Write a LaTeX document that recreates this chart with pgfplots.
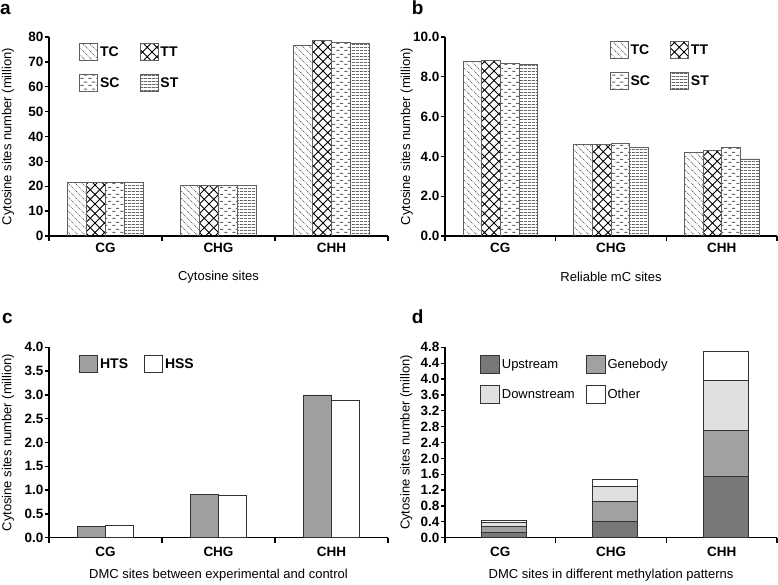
\documentclass[border=0pt]{standalone}
\usepackage{fontspec}
\setmainfont{Liberation Sans}
\usepackage{pgfplots}
\pgfplotsset{compat=1.18}
\usetikzlibrary{patterns}

\pgfdeclarepatternformonly{tcpat}{\pgfqpoint{-1pt}{-1pt}}{\pgfqpoint{8pt}{8pt}}{\pgfqpoint{7pt}{7pt}}{%
  \pgfsetlinewidth{0.7pt}\pgfsetdash{{1pt}{0.9pt}}{0pt}%
  \pgfpathmoveto{\pgfqpoint{-0.5pt}{7.5pt}}\pgfpathlineto{\pgfqpoint{7.5pt}{-0.5pt}}\pgfusepath{stroke}}
\pgfdeclarepatternformonly{ttpat}{\pgfqpoint{-1pt}{-1pt}}{\pgfqpoint{10.5pt}{10.5pt}}{\pgfqpoint{9.5pt}{9.5pt}}{%
  \pgfsetlinewidth{0.8pt}%
  \pgfpathmoveto{\pgfqpoint{-0.5pt}{-0.5pt}}\pgfpathlineto{\pgfqpoint{10pt}{10pt}}%
  \pgfpathmoveto{\pgfqpoint{-0.5pt}{10pt}}\pgfpathlineto{\pgfqpoint{10pt}{-0.5pt}}\pgfusepath{stroke}}
\pgfdeclarepatternformonly{scpat}{\pgfqpoint{0pt}{0pt}}{\pgfqpoint{8pt}{7pt}}{\pgfqpoint{8pt}{7pt}}{%
  \pgfpathrectangle{\pgfqpoint{0.3pt}{1.3pt}}{\pgfqpoint{3.6pt}{1pt}}%
  \pgfpathrectangle{\pgfqpoint{4.3pt}{4.8pt}}{\pgfqpoint{3.6pt}{1pt}}\pgfusepath{fill}}
\pgfdeclarepatternformonly{stpat}{\pgfqpoint{0pt}{0pt}}{\pgfqpoint{4pt}{2.5pt}}{\pgfqpoint{4pt}{2.5pt}}{%
  \pgfpathrectangle{\pgfqpoint{0pt}{0pt}}{\pgfqpoint{4pt}{1pt}}\pgfusepath{fill}}

\pgfplotsset{
  panel/.style={
    scale only axis, ybar=0pt,
    axis lines*=left,
    axis line style={line width=1.5pt, -},
    xmin=-0.5, xmax=2.5, ymin=0,
    xtick={0,1,2}, xticklabels={CG,CHG,CHH},
    minor xtick={-0.5,0.5,1.5,2.5},
    major x tick style={draw=none},
    tick align=outside,
    major tick length=4pt, minor tick length=5pt,
    every tick/.append style={line width=1.3pt, black},
    tick label style={font=\fontsize{13.5}{15}\selectfont\bfseries, black},
    yticklabel style={inner sep=1.5pt},
    /pgf/number format/assume math mode=true,
    label style={font=\fontsize{13}{15}\selectfont},
    ylabel={Cytosine sites number (million)},
    legend image code/.code={\draw[##1, line width=0.9pt] (0pt,-8.5pt) rectangle (18pt,8.5pt);},
    legend style={draw=none, fill=none, inner sep=0pt, anchor=north west,
      font=\fontsize{14}{16}\selectfont\bfseries, legend cell align=left},
    legend columns=2,
  },
  pat/.style={draw=gray!75!black, line width=0.8pt, pattern=#1, pattern color=black},
}

\pgfplotstableread{
x TC TT SC ST
0 21.5 21.6 21.5 21.6
1 20.3 20.5 20.3 20.3
2 76.7 78.5 77.7 77.6
}\tabA
\pgfplotstableread{
x TC TT SC ST
0 8.78 8.81 8.69 8.63
1 4.61 4.61 4.66 4.46
2 4.20 4.30 4.47 3.87
}\tabB
\pgfplotstableread{
x HTS HSS
0 0.24 0.26
1 0.91 0.89
2 3.00 2.89
}\tabC
\pgfplotstableread{
x Up Gene Down Other
0 0.14 0.14 0.10 0.05
1 0.40 0.51 0.38 0.18
2 1.55 1.16 1.25 0.74
}\tabD

\begin{document}
\begin{tikzpicture}
\useasboundingbox (0pt,0pt) rectangle (778pt,584pt);

% panel a
\begin{axis}[panel, at={(49pt,348pt)}, anchor=south west, width=339pt, height=199pt,
  ymax=80, ytick={0,10,...,80}, bar width=19pt,
  xlabel={Cytosine sites},
  xlabel style={at={(axis description cs:0.5,-0.206)}, anchor=center},
  ylabel style={at={(axis description cs:-0.121,0.5)}, anchor=center},
  legend style={at={(axis description cs:0.0885,0.970)}, row sep=13pt,
    /tikz/every even column/.append style={column sep=18pt}},
]
\addplot[pat=tcpat, pattern color=black!60] table[x=x,y=TC]{\tabA};
\addplot[pat=ttpat] table[x=x,y=TT]{\tabA};
\addplot[pat=scpat, pattern color=black!60] table[x=x,y=SC]{\tabA};
\addplot[pat=stpat, pattern color=black!60] table[x=x,y=ST]{\tabA};
\legend{TC,TT,SC,ST}
\end{axis}

% panel b
\begin{axis}[panel, at={(445pt,348pt)}, anchor=south west, width=332pt, height=199pt,
  ymax=10, ytick={0,2,...,10}, bar width=18.7pt,
  yticklabel style={/pgf/number format/.cd, fixed, fixed zerofill, precision=1},
  xlabel={Reliable mC sites},
  xlabel style={at={(axis description cs:0.5,-0.206)}, anchor=center},
  ylabel style={at={(axis description cs:-0.115,0.5)}, anchor=center},
  legend style={at={(axis description cs:0.4955,0.980)}, row sep=13pt,
    /tikz/every even column/.append style={column sep=18pt}},
]
\addplot[pat=tcpat, pattern color=black!60] table[x=x,y=TC]{\tabB};
\addplot[pat=ttpat] table[x=x,y=TT]{\tabB};
\addplot[pat=scpat, pattern color=black!60] table[x=x,y=SC]{\tabB};
\addplot[pat=stpat, pattern color=black!60] table[x=x,y=ST]{\tabB};
\legend{TC,TT,SC,ST}
\end{axis}

% panel c
\begin{axis}[panel, at={(49pt,46.3pt)}, anchor=south west, width=339pt, height=190.4pt,
  ymax=4, ytick={0,0.5,...,4.0}, bar width=28pt,
  yticklabel style={/pgf/number format/.cd, fixed, fixed zerofill, precision=1},
  xticklabel style={yshift=-2pt},
  xlabel={DMC sites between experimental and control},
  xlabel style={at={(axis description cs:0.5,-0.196)}, anchor=center},
  ylabel style={at={(axis description cs:-0.121,0.5)}, anchor=center},
  legend style={at={(axis description cs:0.0885,0.9596)},
    /tikz/every even column/.append style={column sep=14pt}},
]
\addplot[draw=black!80, line width=0.8pt, fill=gray!75] table[x=x,y=HTS]{\tabC};
\addplot[draw=black!80, line width=0.8pt, fill=white] table[x=x,y=HSS]{\tabC};
\legend{HTS,HSS}
\end{axis}

% panel d
\begin{axis}[panel, ybar stacked, at={(445pt,46.3pt)}, anchor=south west, width=332pt, height=190.4pt,
  ymax=4.8, ytick={0,0.4,...,4.81}, bar width=45pt, bar shift=4pt,
  yticklabel style={/pgf/number format/.cd, fixed, fixed zerofill, precision=1},
  xticklabel style={yshift=-2pt},
  ylabel={Cytosine sites number (millon)},
  xlabel={DMC sites in different methylation patterns},
  xlabel style={at={(axis description cs:0.5,-0.196)}, anchor=center},
  ylabel style={at={(axis description cs:-0.117,0.5)}, anchor=center},
  legend style={at={(axis description cs:0.105,0.9596)}, row sep=11pt,
    font=\fontsize{13}{15}\selectfont,
    /tikz/every even column/.append style={column sep=9pt}},
  legend image code/.code={\draw[#1, line width=0.8pt] (0pt,-9pt) rectangle (19pt,9pt);},
]
\addplot[draw=black!80, line width=0.8pt, fill=black!53] table[x=x,y=Up]{\tabD};
\addplot[draw=black!80, line width=0.8pt, fill=black!37] table[x=x,y=Gene]{\tabD};
\addplot[draw=black!80, line width=0.8pt, fill=black!12] table[x=x,y=Down]{\tabD};
\addplot[draw=black!80, line width=0.8pt, fill=white] table[x=x,y=Other]{\tabD};
\legend{Upstream,Genebody,Downstream,Other}
\end{axis}

\node[anchor=base west, font=\fontsize{19}{21}\selectfont\bfseries, inner sep=0pt] at (0pt,569pt) {a};
\node[anchor=base west, font=\fontsize{19}{21}\selectfont\bfseries, inner sep=0pt] at (411.7pt,569pt) {b};
\node[anchor=base west, font=\fontsize{19}{21}\selectfont\bfseries, inner sep=0pt] at (2pt,260.5pt) {c};
\node[anchor=base west, font=\fontsize{19}{21}\selectfont\bfseries, inner sep=0pt] at (411.7pt,260.7pt) {d};
\end{tikzpicture}
\end{document}
